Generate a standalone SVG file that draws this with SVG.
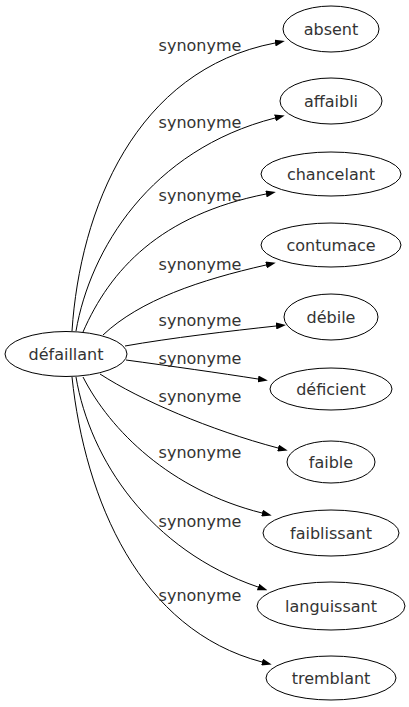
<svg xmlns="http://www.w3.org/2000/svg" width="409" height="707" viewBox="0 0 409 707">
<style>
text{font-family:"DejaVu Sans",sans-serif;font-size:16px;fill:#333}
.n ellipse{fill:#fff;stroke:#000;stroke-width:1}
.n text{text-anchor:middle}
.e path{fill:none;stroke:#000;stroke-width:1}
.lbl{text-anchor:middle}
</style>
<defs>
<marker id="ah" markerUnits="userSpaceOnUse" viewBox="0 0 10 7" refX="0" refY="3.5" markerWidth="10" markerHeight="7" orient="auto">
<path d="M0,0 L10,3.5 L0,7 z" fill="#000"/>
</marker>
</defs>
<g id="edges" class="e">
<path marker-end="url(#ah)" d="M72,331 C80,210 135,70 275,43"/>
<path marker-end="url(#ah)" d="M76,331 C90,250 150,150 275,118"/>
<path marker-end="url(#ah)" d="M83,332 C110,270 160,215 266,194"/>
<path marker-end="url(#ah)" d="M103,335 C140,300 200,280 266,265"/>
<path marker-end="url(#ah)" d="M125,346 C170,338 230,331 276,326"/>
<path marker-end="url(#ah)" d="M126,360 C170,366 220,373 258,379"/>
<path marker-end="url(#ah)" d="M100,374 C140,400 210,430 278,448"/>
<path marker-end="url(#ah)" d="M83,377 C110,430 170,490 262,513"/>
<path marker-end="url(#ah)" d="M76,377 C90,460 150,550 258,587"/>
<path marker-end="url(#ah)" d="M72,377 C85,500 140,630 262,662"/>
</g>
<g id="labels">
<text class="lbl" x="200" y="51">synonyme</text>
<text class="lbl" x="200" y="128">synonyme</text>
<text class="lbl" x="200" y="201">synonyme</text>
<text class="lbl" x="200" y="270">synonyme</text>
<text class="lbl" x="200" y="326">synonyme</text>
<text class="lbl" x="200" y="364">synonyme</text>
<text class="lbl" x="200" y="402">synonyme</text>
<text class="lbl" x="200" y="458">synonyme</text>
<text class="lbl" x="200" y="527">synonyme</text>
<text class="lbl" x="200" y="601">synonyme</text>
</g>
<g id="defaillant" class="n"><ellipse cx="66" cy="354" rx="61" ry="22.5"/><text x="66" y="359.5">défaillant</text></g>
<g id="absent" class="n"><ellipse cx="331" cy="29" rx="48" ry="23"/><text x="331" y="34.5">absent</text></g>
<g id="affaibli" class="n"><ellipse cx="331" cy="101" rx="51" ry="23"/><text x="331" y="106.5">affaibli</text></g>
<g id="chancelant" class="n"><ellipse cx="331" cy="174" rx="70" ry="22"/><text x="331" y="179.5">chancelant</text></g>
<g id="contumace" class="n"><ellipse cx="331" cy="245" rx="70" ry="22"/><text x="331" y="250.5">contumace</text></g>
<g id="debile" class="n"><ellipse cx="331" cy="317" rx="47" ry="23"/><text x="331" y="322.5">débile</text></g>
<g id="deficient" class="n"><ellipse cx="331" cy="389" rx="61" ry="21"/><text x="331" y="394.5">déficient</text></g>
<g id="faible" class="n"><ellipse cx="331" cy="462" rx="44" ry="21"/><text x="331" y="467.5">faible</text></g>
<g id="faiblissant" class="n"><ellipse cx="331" cy="533" rx="68" ry="23"/><text x="331" y="538.5">faiblissant</text></g>
<g id="languissant" class="n"><ellipse cx="331" cy="606" rx="74" ry="24"/><text x="331" y="611.5">languissant</text></g>
<g id="tremblant" class="n"><ellipse cx="331" cy="678" rx="65" ry="22"/><text x="331" y="683.5">tremblant</text></g>
</svg>
